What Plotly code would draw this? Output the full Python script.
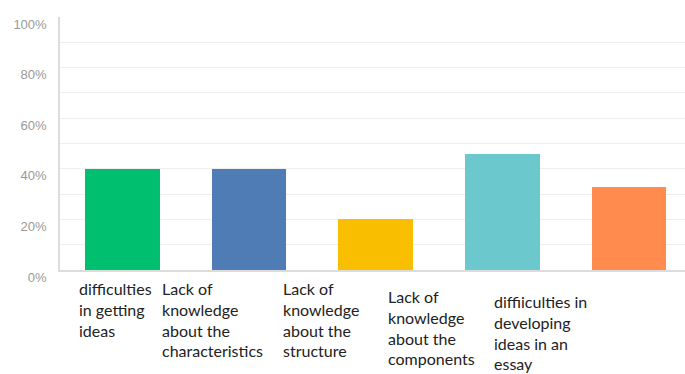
import plotly.graph_objects as go

# Survey responses: share of students reporting each writing difficulty
categories = [
    "difficulties in getting ideas",
    "Lack of knowledge about the characteristics",
    "Lack of knowledge about the structure",
    "Lack of knowledge about the components",
    "diffiiculties in developing ideas in an essay",
]
label_lines = [
    "difficulties<br>in getting<br>ideas",
    "Lack of<br>knowledge<br>about the<br>characteristics",
    "Lack of<br>knowledge<br>about the<br>structure",
    "Lack of<br>knowledge<br>about the<br>components",
    "diffiiculties in<br>developing<br>ideas in an<br>essay",
]
shares = [0.40, 0.40, 0.20, 0.46, 0.33]
tick_vals = [0, 0.2, 0.4, 0.6, 0.8, 1.0]
tick_text = ["0%", "20%", "40%", "60%", "80%", "100%"]

bar_colors = ["#00BF6F", "#507CB6", "#F9BE00", "#6BC8CD", "#FF8B4F"]

# Placement of the wrapped category labels (pixel offsets from the bar centre)
label_dx = [-46, -89, -95, -116, -137]
label_dy = [-7, -7, -7, -15, -20]

x_idx = list(range(len(categories)))

fig = go.Figure(
    go.Bar(
        x=x_idx,
        y=shares,
        width=0.59,
        marker=dict(color=bar_colors, line=dict(width=0)),
        hovertext=categories,
        hoverinfo="text+y",
    )
)

for i, txt in enumerate(label_lines):
    fig.add_annotation(
        x=i, y=0, xref="x", yref="paper",
        text=txt, showarrow=False,
        xanchor="left", yanchor="top", align="left",
        xshift=label_dx[i], yshift=label_dy[i],
        font=dict(family="Lato, sans-serif", size=16, color="#222222"),
    )

fig.update_layout(
    width=685, height=374,
    margin=dict(l=60, r=0, t=17, b=104),
    paper_bgcolor="white", plot_bgcolor="white",
    showlegend=False,
    bargap=0,
)
fig.update_xaxes(
    range=[-0.494, 4.443],
    showticklabels=False, showgrid=False, zeroline=False,
    showline=True, linecolor="#dcdcdc", linewidth=1.5,
    fixedrange=True,
)
fig.update_yaxes(
    range=[0, 1.0],
    tickvals=tick_vals, ticktext=tick_text,
    tickfont=dict(family="Liberation Sans, Arial, sans-serif", size=13, color="#999999"),
    ticklabelshift=7, ticklabelstandoff=9,
    showgrid=True, gridcolor="#eeeeee", gridwidth=1,
    minor=dict(dtick=0.1, tick0=0, showgrid=True, gridcolor="#eeeeee", gridwidth=1),
    zeroline=False,
    showline=True, linecolor="#dcdcdc", linewidth=1.5,
    fixedrange=True,
)

fig.write_html("out.html")
